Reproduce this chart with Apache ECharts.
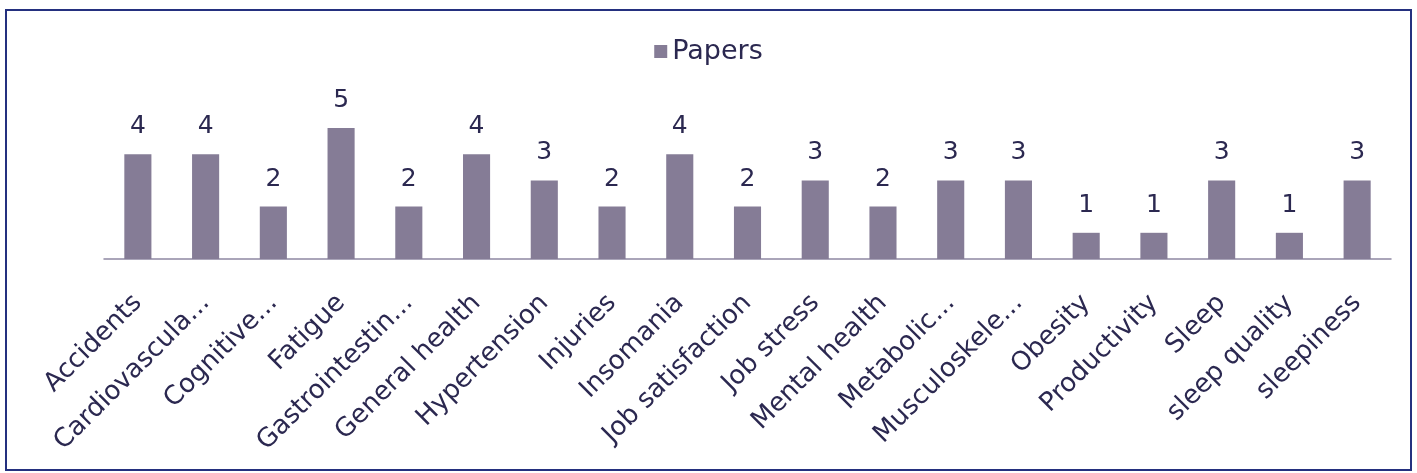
<!DOCTYPE html>
<html lang="en">
<head>
    <meta charset="UTF-8">
    <title>Papers</title>
    <script src="https://cdn.jsdelivr.net/npm/echarts@6/dist/echarts.min.js"></script>
    <style>
        html, body { margin: 0; padding: 0; background: #fff; }
    </style>
</head>
<body>
    <div id="chart" style="width: 1417px; height: 473px;"></div>
    <script>
    // 类别（图中已截断的文字照原样保留）
    var categories = [
        'Accidents', 'Cardiovascula...', 'Cognitive...', 'Fatigue', 'Gastrointestin...',
        'General health', 'Hypertension', 'Injuries', 'Insomania', 'Job satisfaction',
        'Job stress', 'Mental health', 'Metabolic...', 'Musculoskele...', 'Obesity',
        'Productivity', 'Sleep', 'sleep quality', 'sleepiness'
    ];
    var papers = [4, 4, 2, 5, 2, 4, 3, 2, 4, 2, 3, 2, 3, 3, 1, 1, 3, 1, 3];
    var seriesName = 'Papers';

    var barColor = '#857c96';
    var textColor = '#2b2850';
    var font = 'DejaVu Sans, Verdana, sans-serif';

    var myChart = echarts.init(document.getElementById('chart'));
    var option = {
        animation: false,
        backgroundColor: '#fff',
        graphic: [{
            type: 'rect',
            shape: { x: 6, y: 10, width: 1405, height: 460 },
            style: { fill: 'none', stroke: '#24307f', lineWidth: 2 },
            silent: true
        }],
        legend: {
            top: 33,
            left: 'center',
            icon: 'rect',
            itemWidth: 13,
            itemHeight: 13,
            itemGap: 14,
            data: [seriesName],
            textStyle: { color: textColor, fontSize: 27, fontFamily: font }
        },
        grid: {
            left: 104,
            right: 26,
            top: 128,
            bottom: 214
        },
        xAxis: {
            type: 'category',
            data: categories,
            axisLine: { lineStyle: { color: '#8f88a3', width: 1.5 } },
            axisTick: { show: false },
            axisLabel: {
                interval: 0,
                rotate: 45,
                margin: 40,
                color: textColor,
                fontSize: 26,
                fontFamily: font
            }
        },
        yAxis: {
            type: 'value',
            min: 0,
            max: 5,
            show: false
        },
        series: [{
            name: seriesName,
            type: 'bar',
            data: papers,
            barWidth: '40%',
            itemStyle: { color: barColor },
            label: {
                show: true,
                position: 'top',
                distance: 15,
                color: textColor,
                fontSize: 25,
                fontFamily: font
            }
        }]
    };
    myChart.setOption(option);
    </script>
</body>
</html>
